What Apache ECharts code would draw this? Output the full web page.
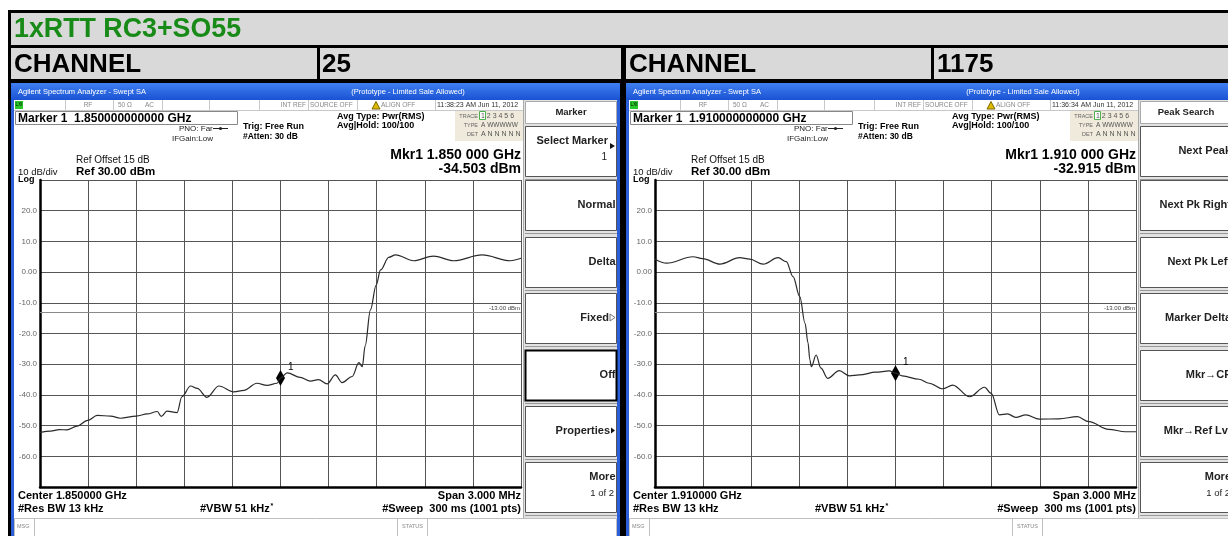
<!DOCTYPE html>
<html>
<head>
<meta charset="utf-8">
<script src="https://cdn.jsdelivr.net/npm/echarts@6/dist/echarts.min.js"></script>
<style>html,body{margin:0;padding:0;background:#fff}#c{width:1228px;height:536px}</style>
</head>
<body>
<div id="c"></div>
<script>
// ---- data (frequency offset from center in kHz, level in dBm) ----
const freqOffsetKHz_ch25 = [-1500,-1434,-1380,-1332,-1269,-1203,-1143,-1059,-999,-900,-831,-768,-744,-708,-645,-615,-561,-519,-459,-384,-291,-228,-147,-84,-21,0,42,123,186,237,291,342,384,447,489,510,528,561,597,624,675,717,831,954,1080,1257,1434,1500];
const level_ch25 = [-52.2,-51.8,-51.3,-51.4,-50.2,-48.3,-46.7,-46.9,-47.6,-46.9,-46.2,-45.4,-47.0,-45.3,-45.8,-40.6,-37.1,-37.9,-40.8,-37.1,-39.0,-38.5,-36.2,-36.9,-36.2,-34.5,-32.8,-34.3,-35.5,-35.0,-36.4,-33.5,-36.0,-34.0,-29.5,-30.8,-24.0,-12.3,-4.2,0.7,4.8,5.6,3.7,5.2,3.7,5.6,3.7,4.5];
const freqOffsetKHz_ch1175 = [-1500,-1428,-1263,-1203,-1095,-972,-909,-825,-732,-681,-639,-597,-564,-546,-534,-525,-495,-465,-423,-351,-288,-225,-123,-39,0,42,147,210,294,357,462,555,597,648,699,750,813,897,1020,1134,1206,1329,1434,1500];
const level_ch1175 = [4.2,2.9,5.0,4.4,2.6,4.7,4.2,2.6,4.7,3.4,-1.5,-8.0,-16.7,-23.0,-28.6,-30.8,-27.0,-31.3,-34.6,-32.1,-33.8,-33.5,-32.6,-32.2,-32.9,-33.8,-34.9,-36.2,-38.0,-36.8,-40.6,-37.5,-39.5,-46.5,-46.2,-47.3,-46.5,-47.9,-47.8,-47.1,-48.7,-51.2,-52.0,-52.0];
const markerLevels = [-34.503, -32.915];
const limitLine = -13;
const yRange = [-70, 30];
const channels = ['25', '1175'];
const softkeys_ch25 = ['Select Marker', 'Normal', 'Delta', 'Fixed', 'Off', 'Properties', 'More'];
const softkeys_ch1175 = ['Next Peak', 'Next Pk Right', 'Next Pk Left', 'Marker Delta', 'Mkr\u2192CF', 'Mkr\u2192Ref Lvl', 'More'];

const FF = '"Liberation Sans", Arial, Helvetica, sans-serif';
const G = [];
function R(x,y,w,h,fill,stroke,lw){G.push({type:'rect',silent:true,shape:{x:x,y:y,width:w,height:h},style:{fill:fill||'none',stroke:stroke||'none',lineWidth:lw||0}});}
function L(x1,y1,x2,y2,c,w){G.push({type:'line',silent:true,shape:{x1:x1,y1:y1,x2:x2,y2:y2},style:{stroke:c,lineWidth:w||1}});}
function P(pts,fill,stroke){G.push({type:'polygon',silent:true,shape:{points:pts},style:{fill:fill,stroke:stroke||'none',lineWidth:stroke?1:0}});}
function T(x,y,s,size,opts){opts=opts||{};const a=opts.align||'left';
  G.push({type:'text',silent:true,x:x,y:y,style:{text:s,font:(opts.bold?'bold ':'')+size+'px '+FF,fill:opts.color||'#000',align:a,textAlign:a,verticalAlign:'middle',textVerticalAlign:'middle'}});}

// page chrome
R(0,0,1228,536,'#fff');
R(11,13,1217,32,'#d9d9d9');
R(11,48,1217,31,'#d9d9d9');
R(8,10,1220,3,'#000');
R(8,10,3,526,'#000');
R(11,45,1217,3,'#000');
R(11,79,1217,4,'#000');
R(317,48,3,31,'#000');
R(621,48,5,31,'#000');
R(931,48,3,31,'#000');
R(620,83,7,453,'#000');
T(14,29.5,'1xRTT RC3+SO55',26.8,{bold:true,color:'#178a17'});
T(14,64.5,'CHANNEL',26,{bold:true});
T(322,64.5,channels[0],26,{bold:true});
T(629,64.5,'CHANNEL',26,{bold:true});
T(937,64.5,channels[1],26,{bold:true});

function panel(dx,c){
  R(11+dx,83,609,453,'#2a5fd8');
  R(11+dx,83,609,17,new echarts.graphic.LinearGradient(0,0,0,1,[{offset:0,color:'#3f80f2'},{offset:1,color:'#1a52d2'}]));
  R(14+dx,100,603,436,'#fff');
  T(18+dx,92,'Agilent Spectrum Analyzer - Swept SA',7.5,{color:'#fff'});
  T(408+dx,92,'(Prototype - Limited Sale Allowed)',7.5,{color:'#fff',align:'center'});
  // status row
  L(14+dx,110.5,523+dx,110.5,'#c8c8c8',1);
  [65,113,162,209,259,308,357,435].forEach(function(x){L(x+dx+0.5,100,x+dx+0.5,110,'#c8c8c8',1);});
  R(15+dx,101,8,8,'#28c828');
  T(19+dx,105,'LXI',4.5,{align:'center',color:'#000'});
  T(88+dx,105,'RF',6.5,{color:'#888',align:'center'});
  T(118+dx,105,'50 \u03a9',6.5,{color:'#888'});
  T(145+dx,105,'AC',6.5,{color:'#888'});
  T(306+dx,105,'INT REF',6.5,{color:'#888',align:'right'});
  T(310+dx,105,'SOURCE OFF',6.5,{color:'#888'});
  P([[372+dx,109],[376+dx,101.5],[380+dx,109]],'#e0b800','#7a6a00');
  T(381+dx,105,'ALIGN OFF',6.5,{color:'#888'});
  T(437+dx,105,c.time,7,{color:'#333'});
  // marker box & settings
  R(15.5+dx,111.5,222,13,'#fff','#888',1);
  T(18+dx,118.5,c.marker,12,{bold:true});
  T(179+dx,128.5,'PNO: Far',8,{color:'#222'});
  L(213+dx,128.5,228+dx,128.5,'#222',1); G.push({type:'circle',silent:true,shape:{cx:220.5+dx,cy:128.5,r:1.6},style:{fill:'#222'}});
  T(172+dx,138.5,'IFGain:Low',8,{color:'#222'});
  T(243+dx,127,'Trig: Free Run',9,{bold:true});
  T(243+dx,137,'#Atten: 30 dB',8.5,{bold:true});
  T(337+dx,117,'Avg Type: Pwr(RMS)',9,{bold:true});
  T(337+dx,126,'Avg|Hold: 100/100',9,{bold:true});
  R(455+dx,111,68,30,'#efeadb');
  T(478+dx,116,'TRACE',5.5,{color:'#666',align:'right'});
  T(478+dx,125,'TYPE',5.5,{color:'#666',align:'right'});
  T(478+dx,134,'DET',5.5,{color:'#666',align:'right'});
  R(479.5+dx,111.5,6,8,'#fff','#4caf50',1);
  T(481+dx,116,'1 2 3 4 5 6',7,{color:'#555'});
  T(481+dx,125,'A WWWWW',6.5,{color:'#555'});
  T(481+dx,134,'A N N N N N',7,{color:'#555'});
  T(521+dx,155,c.mkr,14,{bold:true,align:'right'});
  T(521+dx,169,c.mkrVal,14,{bold:true,align:'right'});
  T(76+dx,160,'Ref Offset 15 dB',10,{color:'#111'});
  T(76+dx,171.5,'Ref 30.00 dBm',11.5,{bold:true});
  T(18+dx,172,'10 dB/div',9.5,{color:'#111'});
  T(18+dx,179.5,'Log',9,{bold:true});
  // bottom annotations
  T(18+dx,495.5,c.center,11,{bold:true});
  T(18+dx,509,'#Res BW 13 kHz',11,{bold:true});
  T(200+dx,509,'#VBW 51 kHz',11,{bold:true});
  T(270.5+dx,506,'*',7,{bold:true});
  T(521+dx,495.5,'Span 3.000 MHz',11,{bold:true,align:'right'});
  T(521+dx,509,'#Sweep  300 ms (1001 pts)',11,{bold:true,align:'right'});
  // msg bar
  R(14.5+dx,518.5,602,18,'#fff','#c0c0c0',1);
  L(34.5+dx,518,34.5+dx,536,'#c0c0c0',1);
  T(17+dx,526,'MSG',5.5,{color:'#888'});
  L(397.5+dx,518,397.5+dx,536,'#c0c0c0',1);
  L(427.5+dx,518,427.5+dx,536,'#c0c0c0',1);
  T(412.5+dx,526,'STATUS',5.5,{color:'#888',align:'center'});
  // softkeys
  R(523+dx,100,94,418,'#e2e2e2');
  L(523.5+dx,100,523.5+dx,518,'#aaa',1);
  R(525.5+dx,101.5,91,22,'#fff','#aaa',1);
  T(571+dx,112.5,c.header,9.5,{bold:true,color:'#222',align:'center'});
  const tops=[126,180,237,293,350,406,462];
  tops.forEach(function(t,i){
    const sel = c.selected===i;
    R(525.5+dx,t+0.5,91,50,'#fff',sel?'#000':'#555',sel?2:1);
    L(525+dx,t+53.5,617+dx,t+53.5,'#999',1);
  });
  c.keys.forEach(function(k,i){
    const t=tops[i];
    if(k.sub){
      T(k.x+dx,t+15,k.t,11,{bold:true,align:'right',color:'#222'});
      T(k.sx+dx,t+31,k.sub,k.ss||10,{align:'right',color:'#222'});
    } else {
      T(k.x+dx,t+24.5,k.t,11,{bold:true,align:'right',color:'#222'});
    }
    if(k.arrow==='fill') P([[610+dx,t+17],[615+dx,t+20],[610+dx,t+23]],'#111');
    if(k.arrow==='fillMid') P([[611+dx,t+21.5],[615+dx,t+24.5],[611+dx,t+27.5]],'#111');
    if(k.arrow==='hollow') P([[610+dx,t+21],[615+dx,t+24.5],[610+dx,t+28]],'#fff','#777');
  });
}

panel(0,{time:'11:38:23 AM Jun 11, 2012',marker:'Marker 1  1.850000000000 GHz',mkr:'Mkr1 1.850 000 GHz',mkrVal:'-34.503 dBm',center:'Center 1.850000 GHz',header:'Marker',selected:4,
  keys:[{t:softkeys_ch25[0],x:608,sub:'1',sx:607,arrow:'fill'},{t:softkeys_ch25[1],x:615.5},{t:softkeys_ch25[2],x:615.5},{t:softkeys_ch25[3],x:609,arrow:'hollow'},{t:softkeys_ch25[4],x:615.5},{t:softkeys_ch25[5],x:610,arrow:'fillMid'},{t:softkeys_ch25[6],x:615.5,sub:'1 of 2',sx:614,ss:9.5}]});
panel(615,{time:'11:36:34 AM Jun 11, 2012',marker:'Marker 1  1.910000000000 GHz',mkr:'Mkr1 1.910 000 GHz',mkrVal:'-32.915 dBm',center:'Center 1.910000 GHz',header:'Peak Search',selected:-1,
  keys:[{t:softkeys_ch1175[0],x:616},{t:softkeys_ch1175[1],x:616},{t:softkeys_ch1175[2],x:616},{t:softkeys_ch1175[3],x:616},{t:softkeys_ch1175[4],x:616},{t:softkeys_ch1175[5],x:616},{t:softkeys_ch1175[6],x:616,sub:'1 of 2',sx:615,ss:9.5}]});

function pairs(xs,ys){return xs.map(function(x,i){return [x,ys[i]];});}
function xAx(i){return {type:'value',gridIndex:i,min:-1500,max:1500,interval:300,axisLabel:{show:false},axisTick:{show:false},
  axisLine:{show:true,onZero:false,lineStyle:{color:'#000',width:2.5}},splitLine:{show:true,lineStyle:{color:'#555',width:1}}};}
function yAx(i){return {type:'value',gridIndex:i,min:yRange[0],max:yRange[1],interval:10,axisTick:{show:false},
  axisLine:{show:true,onZero:false,lineStyle:{color:'#000',width:2.5}},splitLine:{show:true,lineStyle:{color:'#555',width:1}},
  axisLabel:{show:true,showMinLabel:false,showMaxLabel:false,margin:3,fontSize:8,color:'#666',fontFamily:FF,
    formatter:function(v){return v===0?'0.00':v.toFixed(1);}}};}
function ser(i,data,mk){return {type:'line',xAxisIndex:i,yAxisIndex:i,data:data,showSymbol:false,smooth:0.35,smoothMonotone:'x',
  lineStyle:{color:'#2a2a2a',width:1.2},silent:true,z:5,
  markLine:{silent:true,symbol:'none',lineStyle:{color:'#8a8a8a',type:'solid',width:1},
    label:{show:true,position:'insideEndTop',formatter:'-13.00 dBm',fontSize:6,color:'#444',fontFamily:FF,distance:1},
    data:[{yAxis:limitLine}]},
  markPoint:{silent:true,symbol:'diamond',symbolSize:[9,16],itemStyle:{color:'#000'},
    label:{show:true,formatter:'1',position:'right',offset:[-2,-11],fontSize:10,color:'#000',fontFamily:FF},
    data:[{coord:[0,mk]}]}};}

const chart = echarts.init(document.getElementById('c'),null,{renderer:'canvas'});
chart.setOption({
  animation:false,
  graphic:{elements:G},
  grid:[{left:40,top:180,width:481,height:307,show:true,borderColor:'#111',borderWidth:1.5,containLabel:false},
        {left:655,top:180,width:481,height:307,show:true,borderColor:'#111',borderWidth:1.5,containLabel:false}],
  xAxis:[xAx(0),xAx(1)],
  yAxis:[yAx(0),yAx(1)],
  series:[ser(0,pairs(freqOffsetKHz_ch25,level_ch25),markerLevels[0]),ser(1,pairs(freqOffsetKHz_ch1175,level_ch1175),markerLevels[1])]
});
</script>
</body>
</html>
